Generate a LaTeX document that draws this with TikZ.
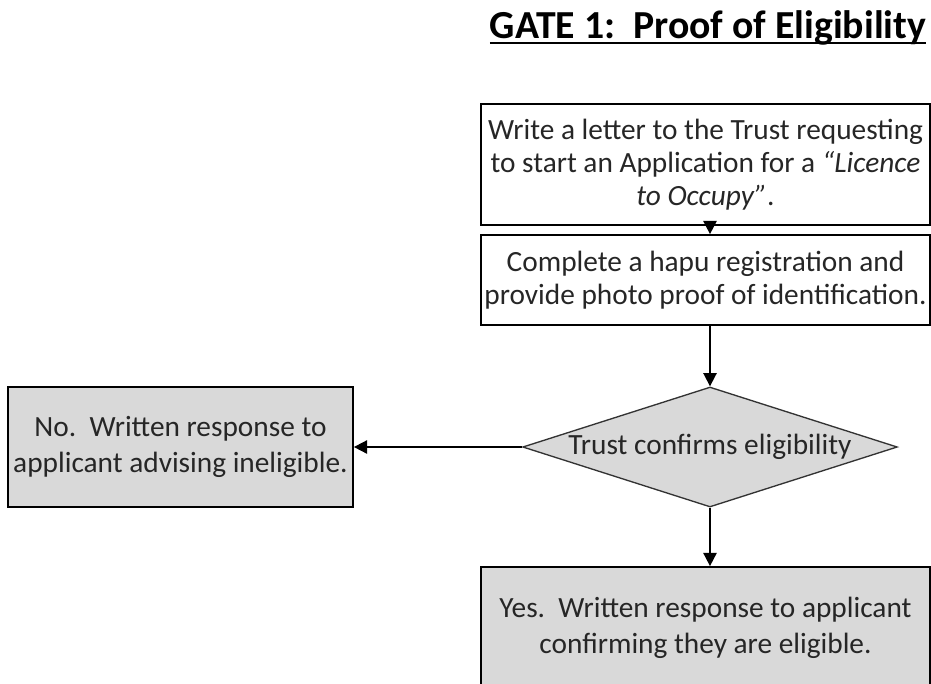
\documentclass[tikz,border=0pt]{standalone}
\usepackage{fontspec}
\setmainfont{Carlito}
\usetikzlibrary{arrows.meta,shapes.geometric}
\definecolor{boxgray}{HTML}{D9D9D9}
\definecolor{txtgray}{HTML}{262626}
\newcommand{\gateuline}[1]{\setbox0=\hbox{#1}\leavevmode\rlap{\rule[-4.4pt]{\wd0}{1.6pt}}\box0}

\begin{document}
\begin{tikzpicture}[x=0.75pt,y=-0.75pt,>={Triangle[length=10pt,width=10pt]},
  font=\fontsize{22}{24.6}\selectfont,text=txtgray,
  stepbox/.style={draw=black,line width=1.3pt,align=center,inner sep=0pt,minimum width=336.75pt},
  endbox/.style={stepbox,fill=boxgray,font=\fontsize{22}{27}\selectfont},
  flow/.style={->,line width=1.3pt}]
\useasboundingbox (0,0) rectangle (931,683);
\clip (0,0) rectangle (931,683);
\node[font=\fontsize{29.8}{34}\selectfont\bfseries,text=black,anchor=base] (title) at (708,38)
  {\gateuline{GATE 1:\ \ Proof of Eligibility}};
\node[stepbox,minimum height=90.75pt] (letter) at (705.5,164.5)
  {Write a letter to the Trust requesting\\to start an Application for a \textit{``Licence}\\\textit{to Occupy''}.};
\node[stepbox,minimum height=67.5pt] (register) at (705.5,280)
  {Complete a hapu registration and\\provide photo proof of identification.};
\node[diamond,draw=black!80,fill=boxgray,line width=1pt,inner sep=0pt,
  minimum width=281pt,minimum height=90pt] (check) at (710,447)
  {\makebox[0pt]{Trust confirms eligibility}};
\node[endbox,minimum width=258.75pt,minimum height=90pt] (no) at (180.5,447)
  {No.\ \ Written response to\\applicant advising ineligible.};
\node[endbox,minimum height=90.75pt] (yes) at (705.5,627.5)
  {Yes.\ \ Written response to applicant\\confirming they are eligible.};
\draw[flow] (letter.south -| check) -- (register.north -| check);
\draw[flow] (register.south -| check) -- (check.north);
\draw[flow] (check.west) -- (no.east);
\draw[flow] (check.south) -- (yes.north -| check);
\end{tikzpicture}
\end{document}
